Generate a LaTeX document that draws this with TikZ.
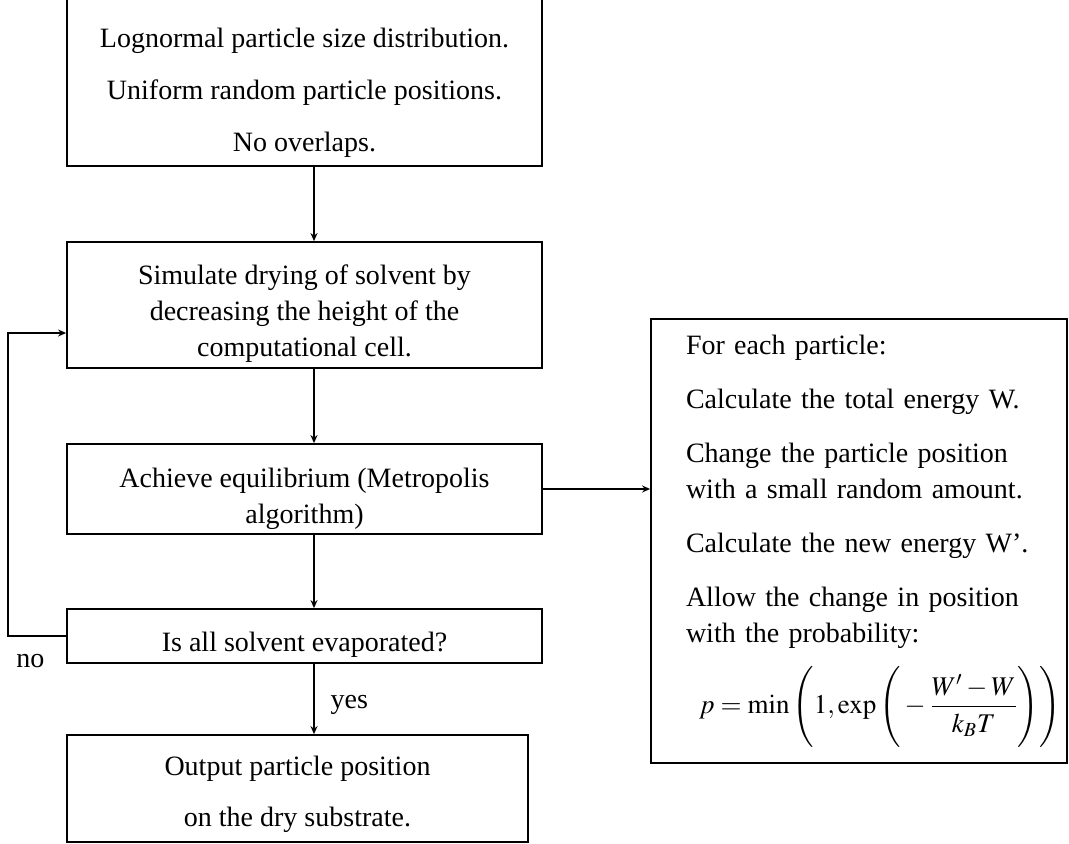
\documentclass[tikz,border=0pt]{standalone}
\usepackage{amsmath}
\usepackage{mathptmx}
\usepackage{fontspec}
\setmainfont{Liberation Serif}
\usetikzlibrary{arrows.meta, positioning}

\begin{document}
\begin{tikzpicture}[x=0.5pt, y=-0.5pt, >={Stealth[length=4pt,width=3.5pt]},
  box/.style={draw, line width=0.9pt, align=center, inner sep=0pt,
    font=\fontsize{14}{18}\selectfont, minimum width=237.5pt},
  flow/.style={->, line width=0.7pt},
  tag/.style={font=\fontsize{14}{18}\selectfont, inner sep=1pt}]
% Page
\useasboundingbox (0,0) rectangle (1069,844);

% Main column
\node[box, minimum height=85.5pt] (init) at (304.5,80.5) {%
\rule{0pt}{22pt}Lognormal particle size distribution.\\[8pt]
Uniform random particle positions.\\[8pt]
No overlaps.};
\node[box, minimum height=63pt] (dry) at (304.5,305) {%
\rule{0pt}{18.5pt}Simulate drying of solvent by\\
decreasing the height of the\\
computational cell.};
\node[box, minimum height=45pt] (equil) at (304.5,489) {%
\rule{0pt}{19.5pt}Achieve equilibrium (Metropolis\\
algorithm)};
\node[box, minimum height=27pt] (check) at (304.5,636) {\rule{0pt}{18.5pt}Is all solvent evaporated?};
\node[box, minimum width=230.5pt, minimum height=53.5pt] (out) at (297.5,788.5) {%
\rule{0pt}{16pt}Output particle position\\[7.5pt]
on the dry substrate.};

% Metropolis step
\node[box, align=left, text width=200pt, minimum width=208pt, minimum height=222pt] (rule) at (859,541) {%
\leftskip=13.5pt For each particle:\\[9pt]
Calculate the total energy W.\\[9pt]
Change the particle position\\
with a small random amount.\\[9pt]
Calculate the new energy W’.\\[9pt]
Allow the change in position\\
with the probability:\\[8pt]
\mbox{\hspace*{20pt}\fontsize{13.5}{18}\selectfont$p = \min\Bigg(1, \exp\Bigg(-\dfrac{W'-W}{k_B T}\Bigg)\Bigg)$}};

% Flow
\coordinate (spine) at (314,0);
\coordinate (back) at (8,333);
\foreach \a/\b in {init/dry, dry/equil, equil/check}
  \draw[flow] (\a.south -| spine) -- (\b.north -| spine);
\draw[flow] (check.south -| spine) -- node[tag, right=7pt, yshift=-3pt] (yes) {yes} (out.north -| spine);
\draw[flow] (check.west) -| (back) -- (dry.west |- back);
\node[tag] (no) at (30.5,661) {no};
\draw[flow] (equil.east) -- (equil.east -| rule.west);

\end{tikzpicture}
\end{document}
